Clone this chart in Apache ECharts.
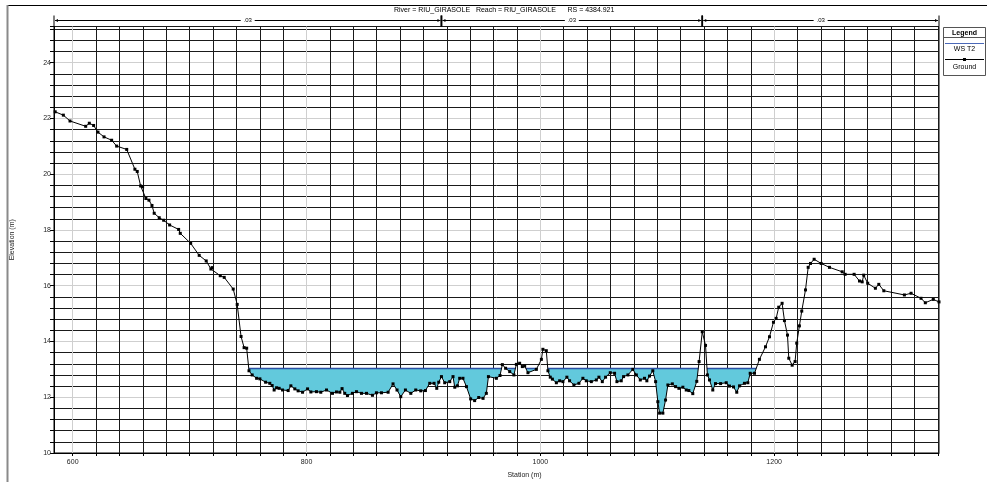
<!DOCTYPE html>
<html><head><meta charset="utf-8">
<script src="https://cdn.jsdelivr.net/npm/echarts@6/dist/echarts.min.js"></script>
<style>html,body{margin:0;padding:0;background:#fff}#c{width:987px;height:487px}</style>
</head><body><div id="c"></div>
<script>
// ---- data ----
const stations = [585,592.0,597.7,611.1,614.2,617.9,621.6,626.8,633.3,637.6,646.2,653.2,655.2,658.1,659.8,662.6,665.2,667.8,669.7,674.0,677.8,682.9,690.6,692.0,700.9,708.2,714.2,718.2,719.3,726.2,729.6,737.3,740.7,744.0,746.6,748.8,750.8,753.5,757.3,760.1,765.0,768.6,770.6,772.3,774.4,776.6,779.5,784.3,786.6,790.0,792.8,796.6,800.9,803.7,808.5,812.2,817.1,822.2,825.6,828.5,830.4,832.7,835.0,839.3,842.7,847.0,851.3,856.4,859.8,864.1,869.8,874.0,877.4,880.6,884.6,889.2,893.4,897.7,901.7,905.4,909.1,911.4,913.1,915.4,918.2,922.5,925.3,926.8,929.1,931.0,933.8,936.8,940.4,943.8,947.3,951.0,953.8,955.6,962.4,965.5,967.5,970.3,973.8,977.4,979.5,982.3,984.6,986.6,989.4,996.6,1000.9,1002.2,1005.1,1006.5,1008.5,1010.3,1013.7,1016.5,1019.3,1022.7,1025.0,1028.7,1033.0,1036.4,1039.3,1043.6,1047.9,1050.1,1053.0,1055.8,1059.8,1063.5,1065.5,1069.2,1071.2,1074.9,1079.1,1082.1,1085.5,1089.1,1091.1,1093.4,1096.2,1098.6,1100.5,1102.0,1104.8,1107.1,1109.1,1112.9,1115.7,1118.5,1121.9,1124.8,1127.0,1130.4,1133.8,1135.8,1138.5,1141.3,1142.9,1144.7,1147.5,1149.8,1154.2,1159.0,1161.8,1165.2,1168.0,1170.4,1174.6,1177.5,1179.5,1183.2,1187.4,1192.6,1196.0,1199.4,1201.7,1203.9,1206.8,1208.8,1211.4,1212.5,1215.4,1217.9,1219.3,1221.6,1223.6,1226.8,1229.1,1231.1,1234.2,1240.2,1247.3,1258.2,1260.7,1268.4,1273.0,1275.3,1276.6,1280.0,1286.6,1289.5,1293.8,1311.4,1317.1,1325.6,1329.3,1336.1,1341.0];
const ground = [22.24,22.12,21.91,21.72,21.83,21.75,21.51,21.34,21.22,21.01,20.89,20.18,20.10,19.58,19.55,19.13,19.07,18.88,18.60,18.44,18.35,18.18,18.02,17.88,17.52,17.09,16.89,16.60,16.65,16.36,16.30,15.88,15.33,14.18,13.78,13.76,12.95,12.80,12.68,12.66,12.54,12.50,12.42,12.26,12.34,12.32,12.26,12.24,12.41,12.30,12.23,12.18,12.30,12.19,12.20,12.18,12.26,12.14,12.19,12.18,12.31,12.14,12.06,12.14,12.20,12.14,12.14,12.07,12.16,12.16,12.18,12.48,12.26,12.02,12.26,12.14,12.26,12.23,12.24,12.50,12.50,12.32,12.54,12.74,12.52,12.56,12.74,12.36,12.41,12.68,12.68,12.38,11.94,11.88,11.99,11.96,12.14,12.74,12.68,12.78,13.17,13.04,12.92,12.80,13.18,13.22,13.10,13.12,12.88,13.00,13.36,13.72,13.67,12.95,12.72,12.65,12.52,12.59,12.56,12.72,12.59,12.44,12.50,12.68,12.59,12.56,12.62,12.72,12.56,12.72,12.88,12.86,12.56,12.59,12.74,12.80,13.00,12.80,12.62,12.68,12.59,12.76,12.95,12.56,11.84,11.43,11.43,11.90,12.44,12.48,12.38,12.32,12.36,12.26,12.24,12.13,12.57,13.28,14.35,13.86,12.80,12.62,12.26,12.49,12.49,12.52,12.40,12.37,12.18,12.41,12.50,12.52,12.86,12.86,13.36,13.81,14.17,14.69,14.83,15.23,15.37,14.75,14.23,13.40,13.15,13.28,13.94,14.56,15.09,15.85,16.66,16.80,16.95,16.80,16.66,16.50,16.41,16.41,16.17,16.14,16.38,16.09,15.91,16.05,15.82,15.67,15.73,15.55,15.39,15.51,15.42];
const wsElev = 13.03;
const xLabels = [600, 800, 1000, 1200];
const yLabels = [10, 12, 14, 16, 18, 20, 22, 24];
const nBounds = [584, 915.4, 1138.5, 1341];
const nValues = ['.03', '.03', '.03'];
const titleText = 'River = RIU_GIRASOLE   Reach = RIU_GIRASOLE      RS = 4384.921';

// ---- layout ----
const xMin = 584, xMax = 1341, yMin = 10, yMax = 25.3;
const F = '"Liberation Sans", Arial, sans-serif';
const xTicks = [];
for (let v = 600; v <= 1340; v += 20) xTicks.push(v);
const minor = '#1a1a1a', major = '#cfcfcf';
const xSplitColors = [major, minor, minor, minor, minor, minor, minor, minor, minor, minor];

const chart = echarts.init(document.getElementById('c'), null, {renderer: 'canvas'});

function waterItem(params, api) {
  const children = [];
  const pts = stations.map((s, i) => [s, ground[i]]);
  let cur = null;
  const segs = [];
  for (let i = 0; i < pts.length; i++) {
    const [x, y] = pts[i];
    const wet = y < wsElev;
    if (i > 0) {
      const [px, py] = pts[i - 1];
      const pwet = py < wsElev;
      if (pwet !== wet) {
        const t = (wsElev - py) / (y - py);
        const xc = px + t * (x - px);
        if (wet) { cur = [[xc, wsElev]]; }
        else if (cur) { cur.push([xc, wsElev]); segs.push(cur); cur = null; }
      }
    } else if (wet) { cur = [[x, wsElev]]; }
    if (wet && cur) cur.push([x, y]);
  }
  if (cur) { cur.push([pts[pts.length - 1][0], wsElev]); segs.push(cur); }
  segs.forEach(seg => {
    const p = seg.map(d => api.coord(d));
    children.push({type: 'polygon', shape: {points: p}, style: {fill: '#62C9DC', stroke: null}});
  });
  segs.forEach(seg => {
    const a = api.coord(seg[0]), b = api.coord(seg[seg.length - 1]);
    children.push({type: 'line', shape: {x1: a[0], y1: a[1], x2: b[0], y2: b[1]}, style: {stroke: '#2B4FA3', lineWidth: 1.5}});
  });
  return {type: 'group', children};
}

function nItem(params, api) {
  const i = api.value(2);
  const a = api.coord([api.value(0), yMax]);
  const b = api.coord([api.value(1), yMax]);
  const top = a[1];
  const ly = top - 6;
  const mid = (a[0] + b[0]) / 2;
  const c = [];
  c.push({type: 'line', shape: {x1: a[0] + 1, y1: ly, x2: mid - 7, y2: ly}, style: {stroke: '#000', lineWidth: 1}});
  c.push({type: 'line', shape: {x1: mid + 7, y1: ly, x2: b[0] - 1, y2: ly}, style: {stroke: '#000', lineWidth: 1}});
  c.push({type: 'text', x: mid, y: ly, style: {text: nValues[i], font: '6px ' + F, fill: '#000', align: 'center', verticalAlign: 'middle'}});
  c.push({type: 'polygon', shape: {points: [[a[0] + 1, ly], [a[0] + 4, ly - 1.6], [a[0] + 4, ly + 1.6]]}, style: {fill: '#000'}});
  c.push({type: 'polygon', shape: {points: [[b[0] - 1, ly], [b[0] - 4, ly - 1.6], [b[0] - 4, ly + 1.6]]}, style: {fill: '#000'}});
  c.push({type: 'line', shape: {x1: a[0], y1: ly - 5, x2: a[0], y2: top}, style: {stroke: '#000', lineWidth: i === 0 ? 1 : 1.6}});
  c.push({type: 'line', shape: {x1: b[0], y1: ly - 5, x2: b[0], y2: top}, style: {stroke: '#000', lineWidth: i === nValues.length - 1 ? 1 : 1.6}});
  return {type: 'group', children: c};
}

const option = {
  animation: false,
  backgroundColor: '#fff',
  title: {text: titleText, left: 394, top: 7, padding: 0, textStyle: {fontSize: 7, fontWeight: 'normal', fontFamily: F, color: '#000'}},
  grid: {left: 54, right: 48, top: 26.5, bottom: 34, show: true, borderColor: '#000', borderWidth: 1, backgroundColor: 'transparent'},
  xAxis: {
    type: 'value', min: xMin, max: xMax,
    name: 'Station (m)', nameLocation: 'middle', nameGap: 19,
    nameTextStyle: {fontSize: 7, fontFamily: F, color: '#222', padding: [0, 0, 0, 56]},
    axisLine: {show: true, lineStyle: {color: '#000'}},
    axisTick: {show: true, customValues: xTicks, length: 3, lineStyle: {color: '#000'}},
    axisLabel: {customValues: xLabels, fontSize: 7, margin: 6, color: '#222', fontFamily: F, formatter: v => String(Math.round(v))},
    splitLine: {show: true, lineStyle: {color: xSplitColors, width: 1}}
  },
  yAxis: {
    type: 'value', min: yMin, max: yMax, interval: 0.4,
    name: 'Elevation (m)', nameLocation: 'middle', nameGap: 38, nameRotate: 90,
    nameTextStyle: {fontSize: 7, fontFamily: F, color: '#222'},
    axisLine: {show: true, lineStyle: {color: '#000'}},
    axisTick: {show: true, length: 4, lineStyle: {color: '#000'}},
    axisLabel: {fontSize: 7, margin: 3, color: '#222', fontFamily: F,
      formatter: v => { const r = Math.round(v); return (Math.abs(v - r) < 1e-6 && yLabels.indexOf(r) >= 0) ? String(r) : ''; }},
    splitLine: {show: true, lineStyle: {color: [major, minor, minor, minor, minor], width: 1}}
  },
  series: [
    {type: 'custom', name: 'WS T2', data: [[stations[0], wsElev]], renderItem: waterItem, clip: true, z: 2, silent: true},
    {type: 'line', name: 'Ground', data: stations.map((s, i) => [s, ground[i]]), symbol: 'rect', symbolSize: 3,
      showSymbol: true, showAllSymbol: true, lineStyle: {color: '#000', width: 1}, itemStyle: {color: '#000'}, z: 3, silent: true},
    {type: 'custom', name: 'n', data: nValues.map((v, i) => [nBounds[i], nBounds[i + 1], i]),
      encode: {x: [0, 1]}, renderItem: nItem, clip: false, z: 4, silent: true}
  ],
  graphic: [
    {type: 'line', shape: {x1: 7, y1: 5.5, x2: 987, y2: 5.5}, style: {stroke: '#000', lineWidth: 1}},
    {type: 'line', shape: {x1: 7.5, y1: 5, x2: 7.5, y2: 482}, style: {stroke: '#8a8a8a', lineWidth: 2}},
    {type: 'rect', shape: {x: 943.5, y: 27.5, width: 42, height: 48}, style: {fill: '#fff', stroke: '#555', lineWidth: 1}},
    {type: 'text', x: 964.5, y: 32.7, style: {text: 'Legend', font: 'bold 7px ' + F, fill: '#000', align: 'center', verticalAlign: 'middle'}},
    {type: 'line', shape: {x1: 943.5, y1: 37.5, x2: 985.5, y2: 37.5}, style: {stroke: '#555', lineWidth: 1}},
    {type: 'line', shape: {x1: 945, y1: 43.5, x2: 984, y2: 43.5}, style: {stroke: '#4a68b8', lineWidth: 1}},
    {type: 'text', x: 964.5, y: 49.5, style: {text: 'WS T2', font: '7px ' + F, fill: '#000', align: 'center', verticalAlign: 'middle'}},
    {type: 'line', shape: {x1: 945, y1: 59.5, x2: 984, y2: 59.5}, style: {stroke: '#000', lineWidth: 1}},
    {type: 'rect', shape: {x: 963, y: 58, width: 3, height: 3}, style: {fill: '#000'}},
    {type: 'text', x: 964.5, y: 67.5, style: {text: 'Ground', font: '7px ' + F, fill: '#000', align: 'center', verticalAlign: 'middle'}}
  ]
};
chart.setOption(option);
</script></body></html>
